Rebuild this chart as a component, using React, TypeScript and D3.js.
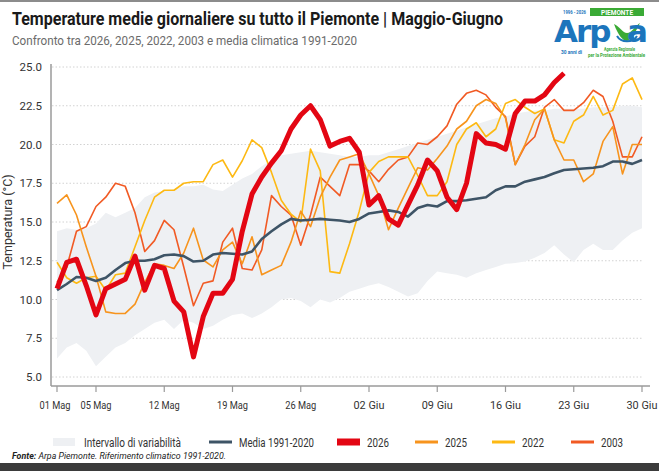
import { useEffect, useRef } from 'react';
import * as d3 from 'd3';

const W = 659;
const H = 471;
const FONT = "Roboto, 'Liberation Sans', sans-serif";

// one value per day, 1 May .. 30 June
const days = d3.timeDay.range(new Date(2026, 4, 1), new Date(2026, 6, 1));

const tickDates = [
  new Date(2026, 4, 1), new Date(2026, 4, 5), new Date(2026, 4, 12), new Date(2026, 4, 19),
  new Date(2026, 4, 26), new Date(2026, 5, 2), new Date(2026, 5, 9), new Date(2026, 5, 16),
  new Date(2026, 5, 23), new Date(2026, 5, 30),
];
const tickLabels = ['01 Mag', '05 Mag', '12 Mag', '19 Mag', '26 Mag', '02 Giu', '09 Giu', '16 Giu', '23 Giu', '30 Giu'];
const yTicks = [5, 7.5, 10, 12.5, 15, 17.5, 20, 22.5, 25];

// variability interval (min / max of 1991-2020)
const lower = [
  6.2, 6.9, 7.2, 6.7, 5.7, 6.3, 6.9, 7.2, 7.7, 8.1, 8.5, 8.7, 8.1, 8.7, 8.5, 8.1, 8.3, 8.7, 9.0, 9.1,
  8.8, 9.1, 9.5, 10.0, 10.1, 9.9, 9.5, 10.0, 9.8, 10.1, 10.5, 10.7, 10.9, 11.05, 10.8, 10.5, 10.2, 10.4, 11.2, 11.8,
  11.7, 11.6, 11.4, 11.7, 11.9, 12.1, 12.3, 12.35, 12.45, 12.7, 13.0, 13.5, 12.9, 12.4, 13.2, 13.6, 13.2, 13.2, 13.8, 14.3,
  14.6,
];
const upper = [
  14.4, 14.6, 14.5, 14.6, 14.9, 15.6, 15.3, 15.6, 15.9, 16.6, 16.9, 17.0, 17.1, 17.3, 17.3, 17.4, 17.1, 17.0, 17.4, 17.8,
  18.1, 18.6, 19.0, 19.3, 19.4, 19.5, 19.6, 19.5, 19.4, 19.3, 19.2, 19.2, 19.3, 19.3, 19.5, 19.7, 19.9, 20.1, 20.3, 20.5,
  20.7, 20.9, 21.1, 21.3, 21.5, 21.7, 21.8, 22.0, 22.1, 22.2, 22.2, 22.3, 22.3, 22.3, 22.3, 22.4, 22.4, 22.4, 22.5, 22.5,
  22.4,
];
const media = [
  10.6, 11.0, 11.45, 11.4, 11.2, 11.4, 11.9, 12.35, 12.5, 12.5, 12.6, 12.85, 12.9, 12.8, 12.45, 12.5, 12.9, 13.0, 12.95, 12.9,
  13.1, 13.9, 14.4, 14.85, 15.2, 15.1, 15.15, 15.2, 15.15, 15.1, 15.0, 15.2, 15.55, 15.65, 15.75, 15.65, 15.35, 15.9, 16.1, 16.0,
  16.35, 16.35, 16.4, 16.5, 16.6, 17.05, 17.3, 17.3, 17.6, 17.75, 17.9, 18.15, 18.35, 18.4, 18.45, 18.5, 18.6, 18.9, 18.9, 18.75,
  19.0,
];
const t2026 = [
  10.7, 12.4, 12.6, 10.9, 9.0, 10.7, 11.0, 11.3, 12.8, 10.6, 12.2, 12.0, 9.9, 9.2, 6.3, 8.9, 10.4, 10.4, 11.3, 14.4,
  16.8, 17.9, 18.8, 19.6, 21.0, 21.9, 22.5, 21.6, 19.9, 20.2, 20.4, 19.5, 16.1, 16.7, 15.2, 14.8, 16.1, 17.4, 19.0, 18.3,
  16.6, 15.8, 17.5, 20.7, 20.1, 20.0, 19.7, 22.0, 22.8, 22.8, 23.2, 24.0, 24.6,
];
const t2025 = [
  16.2, 16.75, 15.45, 13.4, 11.5, 9.2, 9.1, 9.1, 9.7, 11.1, 12.3, 12.2, 12.0, 13.0, 14.6, 12.55, 12.1, 13.2, 13.7, 12.3,
  14.05, 11.6, 11.9, 12.2, 13.7, 15.7, 14.7, 16.6, 17.9, 19.0, 19.2, 19.4, 18.1, 16.7, 14.5, 15.9, 17.2, 18.5, 18.35, 19.1,
  19.9, 21.0, 21.5, 22.5, 22.9, 22.65, 21.7, 18.7, 20.0, 21.6, 22.3, 20.3, 19.0, 19.0, 17.6, 18.1, 20.2, 21.15, 18.1, 20.0,
  20.0,
];
const t2022 = [
  12.4, 11.4, 11.05, 11.4, 11.5, 10.6, 11.6, 11.7, 13.4, 15.1, 16.6, 17.05, 17.05, 17.5, 17.6, 17.6, 18.7, 19.0, 17.9, 18.95,
  20.3, 19.8, 18.2, 16.4, 15.5, 15.0, 19.7, 18.3, 11.8, 11.7, 13.6, 15.7, 18.2, 18.9, 19.2, 19.2, 19.2, 18.0, 16.7, 16.7,
  17.6, 20.0, 21.0, 21.4, 20.5, 21.0, 22.65, 22.9, 22.4, 22.0, 22.3, 20.3, 20.1, 21.5, 21.9, 23.1, 21.9, 22.2, 23.9, 24.3,
  22.9,
];
const t2003 = [
  11.1, 12.1, 14.4, 14.7, 16.0, 16.6, 17.5, 17.3, 15.6, 13.1, 13.8, 15.1, 14.5, 12.1, 9.6, 11.05, 11.2, 13.7, 14.6, 12.0,
  11.9, 13.2, 16.7, 16.0, 15.45, 13.5, 15.45, 17.9, 17.3, 16.7, 18.7, 18.7, 18.3, 17.6, 18.4, 19.0, 19.2, 20.1, 20.0, 20.5,
  21.2, 22.6, 23.3, 23.5, 23.2, 22.4, 21.8, 18.7, 19.9, 20.5, 22.4, 22.9, 22.2, 22.2, 22.7, 23.5, 23.1, 21.5, 19.2, 19.2,
  20.5,
];

const C_BAND = '#eef0f3';
const C_MEDIA = '#3e5466';
const C_2026 = '#e30613';
const C_2025 = '#f7941d';
const C_2022 = '#fdb913';
const C_2003 = '#f15a24';

export default function App() {
  const svgRef = useRef<SVGSVGElement>(null);

  useEffect(() => {
    if (!svgRef.current) return;
    const svg = d3.select(svgRef.current);
    svg.selectAll('*').remove();

    const x = d3.scaleTime().domain([days[0], days[days.length - 1]]).range([57, 642]);
    const y = d3.scaleLinear().domain([5, 25]).range([377, 67]);
    const axisY = 386;

    svg.append('rect').attr('width', W).attr('height', H).attr('fill', '#fff');
    svg.append('rect').attr('width', W).attr('height', 2).attr('fill', '#8c8c8c');

    // Title + subtitle (squeezed to the condensed widths)
    svg.append('text')
      .attr('x', 12).attr('y', 25)
      .attr('font-family', FONT).attr('font-size', 19).attr('font-weight', 700)
      .attr('fill', '#1a1a1a')
      .attr('textLength', 491).attr('lengthAdjust', 'spacingAndGlyphs')
      .text('Temperature medie giornaliere su tutto il Piemonte | Maggio-Giugno');
    svg.append('text')
      .attr('x', 12).attr('y', 45)
      .attr('font-family', FONT).attr('font-size', 13)
      .attr('fill', '#6b6b6b')
      .attr('textLength', 345).attr('lengthAdjust', 'spacingAndGlyphs')
      .text('Confronto tra 2026, 2025, 2022, 2003 e media climatica 1991-2020');

    // Logo
    const logo = svg.append('g').attr('transform', 'translate(548,4)');
    logo.append('text').attr('x', 15).attr('y', 9.5)
      .attr('font-family', FONT).attr('font-size', 5.5).attr('font-weight', 700)
      .attr('textLength', 23).attr('lengthAdjust', 'spacingAndGlyphs')
      .attr('fill', '#1c75bc').text('1996 - 2026');
    logo.append('rect').attr('x', 42).attr('y', 4).attr('width', 54).attr('height', 8).attr('fill', '#3aaa35');
    logo.append('text').attr('x', 69).attr('y', 10.5).attr('text-anchor', 'middle')
      .attr('font-family', FONT).attr('font-size', 6.5).attr('font-weight', 700)
      .attr('fill', '#fff').text('PIEMONTE');
    logo.append('text').attr('x', 6).attr('y', 38)
      .attr('font-family', "'DejaVu Sans', sans-serif").attr('font-size', 31).attr('font-weight', 700)
      .attr('letter-spacing', -2)
      .attr('fill', '#1c75bc').text('Arp');
    logo.append('path')
      .attr('d', 'M66,20 C70,31 75,37 79,37 C83,37 88,27 92,19 C88,21 84,29 79,29 C75,29 71,22 66,20 Z')
      .attr('fill', '#3aaa35');
    logo.append('path')
      .attr('d', 'M69,32 C73,39 85,39 89,32')
      .attr('fill', 'none').attr('stroke', '#1c75bc').attr('stroke-width', 2);
    logo.append('text').attr('x', 100).attr('y', 38).attr('text-anchor', 'end')
      .attr('font-family', "'DejaVu Sans', sans-serif").attr('font-size', 31).attr('font-weight', 700)
      .attr('fill', '#1c75bc').text('a');
    logo.append('text').attr('x', 13).attr('y', 50)
      .attr('font-family', FONT).attr('font-size', 5).attr('font-weight', 700)
      .attr('textLength', 21).attr('lengthAdjust', 'spacingAndGlyphs')
      .attr('fill', '#1c75bc').text('30 anni di');
    logo.append('text').attr('x', 56).attr('y', 46.5)
      .attr('font-family', FONT).attr('font-size', 4.5).attr('font-weight', 700)
      .attr('textLength', 31).attr('lengthAdjust', 'spacingAndGlyphs')
      .attr('fill', '#3aaa35').text('Agenzia Regionale');
    logo.append('text').attr('x', 40).attr('y', 52.5)
      .attr('font-family', FONT).attr('font-size', 4.5).attr('font-weight', 700)
      .attr('textLength', 57).attr('lengthAdjust', 'spacingAndGlyphs')
      .attr('fill', '#3aaa35').text('per la Protezione Ambientale');

    // Grid
    svg.append('g')
      .selectAll('line')
      .data(yTicks)
      .join('line')
      .attr('x1', 52).attr('x2', 642)
      .attr('y1', d => y(d)).attr('y2', d => y(d))
      .attr('stroke', '#d2d2d2')
      .attr('stroke-width', 1)
      .attr('stroke-dasharray', '1.5,2');

    // Variability band
    const band = d3.area<number>()
      .x((_, i) => x(days[i]))
      .y0((_, i) => y(lower[i]))
      .y1(d => y(d));
    svg.append('path')
      .datum(upper)
      .attr('fill', C_BAND)
      .attr('d', band);

    // Axes
    svg.append('line').attr('x1', 51).attr('x2', 51).attr('y1', 64).attr('y2', axisY)
      .attr('stroke', '#9a9a9a').attr('stroke-width', 1.5);
    svg.append('line').attr('x1', 51).attr('x2', 650).attr('y1', axisY).attr('y2', axisY)
      .attr('stroke', '#9a9a9a').attr('stroke-width', 1.5);

    svg.append('g')
      .selectAll('text')
      .data(yTicks)
      .join('text')
      .attr('x', 42)
      .attr('y', d => y(d) + 4)
      .attr('text-anchor', 'end')
      .attr('font-family', FONT).attr('font-size', 11.5)
      .attr('fill', '#333')
      .text(d => d.toFixed(1));

    const xt = svg.append('g');
    xt.selectAll('line')
      .data(tickDates)
      .join('line')
      .attr('x1', d => x(d)).attr('x2', d => x(d))
      .attr('y1', axisY).attr('y2', axisY + 6)
      .attr('stroke', '#9a9a9a').attr('stroke-width', 1.2);
    xt.selectAll('text')
      .data(tickDates)
      .join('text')
      .attr('x', (d, i) => x(d) - (i === 0 ? 2 : 0))
      .attr('y', axisY + 23)
      .attr('text-anchor', 'middle')
      .attr('font-family', FONT).attr('font-size', 11.5)
      .attr('textLength', 31).attr('lengthAdjust', 'spacingAndGlyphs')
      .attr('fill', '#333')
      .text((_, i) => tickLabels[i]);

    svg.append('text')
      .attr('transform', `translate(12,${y(15)}) rotate(-90)`)
      .attr('text-anchor', 'middle')
      .attr('font-family', FONT).attr('font-size', 12.5)
      .attr('fill', '#333')
      .text('Temperatura (°C)');

    // Lines
    const line = d3.line<number>()
      .x((_, i) => x(days[i]))
      .y(d => y(d));

    const series: [number[], string, number][] = [
      [t2003, C_2003, 1.6],
      [t2022, C_2022, 1.6],
      [t2025, C_2025, 1.6],
      [media, C_MEDIA, 2.6],
      [t2026, C_2026, 5],
    ];
    series.forEach(([values, color, width]) => {
      svg.append('path')
        .datum(values)
        .attr('fill', 'none')
        .attr('stroke', color)
        .attr('stroke-width', width)
        .attr('stroke-linejoin', 'round')
        .attr('d', line);
    });

    // Legend: swatch x, colour, swatch height, label, label width
    const ly = 442;
    const legend = svg.append('g').attr('font-family', FONT).attr('font-size', 12.5).attr('fill', '#333');
    legend.append('rect').attr('x', 53).attr('y', ly - 4).attr('width', 22).attr('height', 8).attr('fill', C_BAND);
    legend.append('text').attr('x', 84).attr('y', ly + 4.5)
      .attr('textLength', 97).attr('lengthAdjust', 'spacingAndGlyphs')
      .text('Intervallo di variabilità');
    const items: [number, string, number, string, number][] = [
      [209, C_MEDIA, 3, 'Media 1991-2020', 75],
      [337, C_2026, 7, '2026', 22],
      [415, C_2025, 3, '2025', 22],
      [492, C_2022, 3, '2022', 22],
      [571, C_2003, 3, '2003', 22],
    ];
    items.forEach(([lx, color, h, label, tw]) => {
      legend.append('rect').attr('x', lx).attr('y', ly - h / 2).attr('width', 23).attr('height', h).attr('fill', color);
      legend.append('text').attr('x', lx + 30).attr('y', ly + 4.5)
        .attr('textLength', tw).attr('lengthAdjust', 'spacingAndGlyphs')
        .text(label);
    });

    // Source
    const src = svg.append('text').attr('x', 12).attr('y', 459)
      .attr('font-family', FONT).attr('font-size', 9).attr('font-style', 'italic').attr('fill', '#222')
      .attr('textLength', 214).attr('lengthAdjust', 'spacingAndGlyphs');
    src.append('tspan').attr('font-weight', 700).text('Fonte:');
    src.append('tspan').text(' Arpa Piemonte. Riferimento climatico 1991-2020.');

    svg.append('rect').attr('x', 0).attr('y', 463).attr('width', W).attr('height', H - 463).attr('fill', '#3b3b3b');
  }, []);

  return (
    <svg
      ref={svgRef}
      width={W}
      height={H}
      style={{ position: 'absolute', left: 0, top: 0 }}
    />
  );
}
